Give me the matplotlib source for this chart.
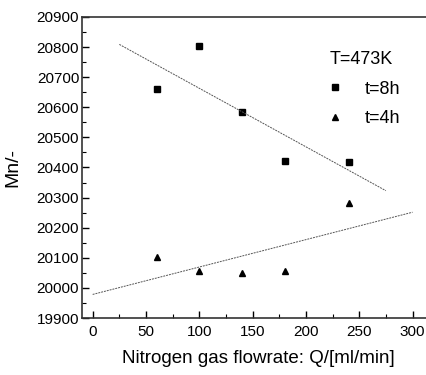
import matplotlib
matplotlib.use("Agg")
import matplotlib.pyplot as plt
from matplotlib.ticker import MultipleLocator
import numpy as np

plt.rcParams["font.family"] = ["Liberation Sans", "DejaVu Sans"]

# flowrate Q [ml/min]
flow = [60, 100, 140, 180, 240]
mn_8h = [20660, 20805, 20585, 20420, 20418]
mn_4h = [20103, 20056, 20050, 20056, 20282]

# x ranges for the fitted lines
fit_8h_range = [25, 275]
fit_4h_range = [0, 300]

fig = plt.figure(figsize=(4.26, 3.75), dpi=100)
ax = fig.add_axes([0.1925, 0.152, 0.826, 0.8027])

sq, = ax.plot(flow, mn_8h, "s", color="black", markersize=4.5, linestyle="none", label="t=8h")
tr, = ax.plot(flow, mn_4h, "^", color="black", markersize=5, linestyle="none", label="t=4h")

for y, rng in [(mn_8h, fit_8h_range), (mn_4h, fit_4h_range)]:
    k, b = np.polyfit(flow, y, 1)
    xs = np.array(rng)
    ax.plot(xs, k * xs + b, color="#555555", linewidth=0.7, linestyle=(0, (2, 1)))

ax.set_xlim(-10, 320)
ax.set_ylim(19900, 20900)
ax.xaxis.set_major_locator(MultipleLocator(50))
ax.xaxis.set_minor_locator(MultipleLocator(25))
ax.yaxis.set_major_locator(MultipleLocator(100))
ax.yaxis.set_minor_locator(MultipleLocator(50))
ax.tick_params(which="major", direction="in", length=5, width=1, labelsize=11, colors="black")
ax.tick_params(axis="y", which="major", pad=2)
ax.tick_params(axis="x", which="major", pad=5)
ax.tick_params(which="minor", direction="in", length=3, width=0.8)
for s in ax.spines.values():
    s.set_linewidth(1.2)
    s.set_color("#333333")

ax.set_xlabel("Nitrogen gas flowrate: Q/[ml/min]", fontsize=13.5, labelpad=8)
ax.set_ylabel("Mn/-", fontsize=14, labelpad=11)

leg = ax.legend(handles=[sq, tr], title="T=473K", frameon=False, fontsize=13,
                title_fontsize=13, loc="upper left", bbox_to_anchor=(321 / 426, 1 - 42 / 375),
                bbox_transform=fig.transFigure, handletextpad=1.3, labelspacing=0.7,
                borderpad=0, handlelength=0.6)
leg._legend_box.align = "left"

fig.savefig("out.png", dpi=100)
